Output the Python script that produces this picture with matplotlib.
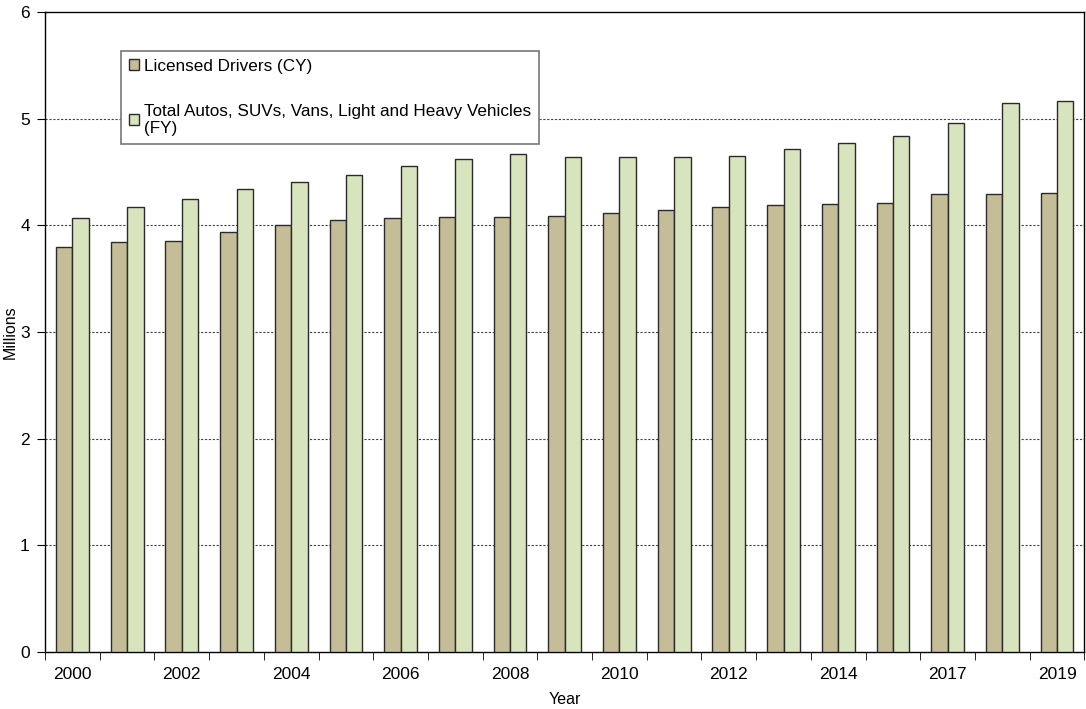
import matplotlib.pyplot as plt
import numpy as np

plt.rcParams['font.family'] = ['Liberation Sans', 'DejaVu Sans']

# dati (milioni)
anni = ['2000', '2001', '2002', '2003', '2004', '2005', '2006', '2007', '2008', '2009',
        '2010', '2011', '2012', '2013', '2014', '2016', '2017', '2018', '2019']
etichette_x = ['2000', '', '2002', '', '2004', '', '2006', '', '2008', '',
               '2010', '', '2012', '', '2014', '', '2017', '', '2019']
patenti = [3.80, 3.84, 3.85, 3.94, 4.00, 4.05, 4.07, 4.08, 4.08, 4.09,
           4.12, 4.14, 4.17, 4.19, 4.20, 4.21, 4.29, 4.29, 4.30]
veicoli = [4.07, 4.17, 4.25, 4.34, 4.41, 4.47, 4.56, 4.62, 4.67, 4.64,
           4.64, 4.64, 4.65, 4.72, 4.77, 4.84, 4.96, 5.15, 5.17]

fig = plt.figure(figsize=(10.86, 7.09), dpi=100)
ax = fig.add_axes([0.0415, 0.0805, 0.957, 0.9025])

x = np.arange(len(anni))
w = 0.30
ax.bar(x - w / 2, patenti, w, color='#C4BD97', edgecolor='#2b2b2b', linewidth=1.0,
       label='Licensed Drivers (CY)', zorder=3)
ax.bar(x + w / 2, veicoli, w, color='#D7E4BD', edgecolor='#2b2b2b', linewidth=1.0,
       label='Total Autos, SUVs, Vans, Light and Heavy Vehicles\n(FY)', zorder=3)

ax.set_xlim(-0.5, len(anni) - 0.5)
ax.set_ylim(0, 6)
ax.set_yticks(range(0, 7))
ax.set_xticks(x)
ax.set_xticklabels(etichette_x)
ax.set_xticks(np.arange(-0.5, len(anni), 1), minor=True)
ax.tick_params(axis='x', which='major', length=0, pad=11, labelsize=12.5)
ax.tick_params(axis='x', which='minor', length=6, direction='out', color='black')
ax.tick_params(axis='y', length=6, direction='out', labelsize=12.5, pad=5)

for yv in range(1, 6):
    ax.axhline(yv, color='#444444', linestyle=(0, (2, 1.5)), linewidth=0.8, zorder=1)

for s in ax.spines.values():
    s.set_color('black')
    s.set_linewidth(1.0)

ax.set_xlabel('Year', fontsize=11.5)
ax.set_ylabel('Millions', fontsize=11.5)
ax.xaxis.set_label_coords(0.5, -0.062)
ax.yaxis.set_label_coords(-0.026, 0.5)

leg = ax.legend(loc='upper left', bbox_to_anchor=(0.073, 0.939), fontsize=12.3,
                frameon=True, fancybox=False, edgecolor='#777777', framealpha=1,
                handlelength=0.6, handleheight=0.6, handletextpad=0.3,
                labelspacing=1.75, borderpad=0.45, borderaxespad=0)
leg.get_frame().set_linewidth(1.2)
leg.set_zorder(5)

plt.savefig('out.png', dpi=100)
